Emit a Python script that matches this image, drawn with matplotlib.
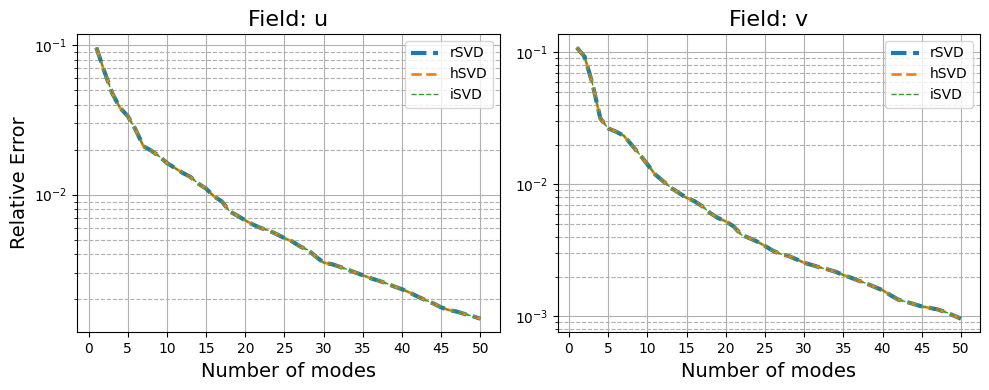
import matplotlib
matplotlib.use("Agg")
import matplotlib.pyplot as plt
import numpy as np

modes = np.arange(1, 51)

# relative error, field u
err_u = [0.0965, 0.0673, 0.048, 0.0382, 0.0336, 0.0273, 0.0211, 0.0197, 0.0181, 0.0163,
         0.0151, 0.0140, 0.01315, 0.01186, 0.01097, 0.00975, 0.00902, 0.00773, 0.00723, 0.00673,
         0.00630, 0.00598, 0.00576, 0.00544, 0.00512, 0.00486, 0.00450, 0.00427, 0.00385, 0.00351,
         0.00343, 0.00330, 0.00316, 0.00302, 0.00289, 0.00276, 0.00266, 0.00255, 0.00243, 0.00233,
         0.00221, 0.00208, 0.00197, 0.00187, 0.00176, 0.00169, 0.00165, 0.00159, 0.00154, 0.00148]

# relative error, field v
err_v = [0.109, 0.0928, 0.058, 0.0317, 0.0266, 0.0251, 0.0234, 0.0199, 0.01695, 0.01422,
         0.0119, 0.0106, 0.00944, 0.00864, 0.00791, 0.00747, 0.00684, 0.00608, 0.00557, 0.00525,
         0.00481, 0.00415, 0.00392, 0.00369, 0.00342, 0.00315, 0.00297, 0.00287, 0.00271, 0.00255,
         0.00245, 0.00235, 0.00227, 0.00218, 0.00206, 0.00196, 0.00186, 0.00177, 0.00167, 0.00158,
         0.00145, 0.00134, 0.00129, 0.00124, 0.00119, 0.00116, 0.00113, 0.00108, 0.00102, 0.00096]

fields = ['u', 'v']
errors = [err_u, err_v]

fig, axs = plt.subplots(1, 2, figsize=(9.89, 3.9), dpi=100)

for i, ax in enumerate(axs):
    e = errors[i]
    # the three methods give the same curve
    ax.semilogy(modes, e, '--', color='C0', lw=3, label='rSVD')
    ax.semilogy(modes, e, '--', color='C1', lw=2, label='hSVD')
    ax.semilogy(modes, e, '--', color='C2', lw=1, label='iSVD')
    ax.set_title('Field: ' + fields[i], fontsize=16)
    ax.set_xlabel('Number of modes', fontsize=14)
    if i == 0:
        ax.set_ylabel('Relative Error', fontsize=14)
    ax.set_xticks(np.arange(0, 51, 5))
    ax.grid(True, which='major')
    ax.grid(True, which='minor', axis='y', linestyle='--')
    ax.legend(loc='upper right')

plt.subplots_adjust(left=0.078, right=0.991, bottom=0.148, top=0.913, wspace=0.137)
plt.savefig('out.png')
